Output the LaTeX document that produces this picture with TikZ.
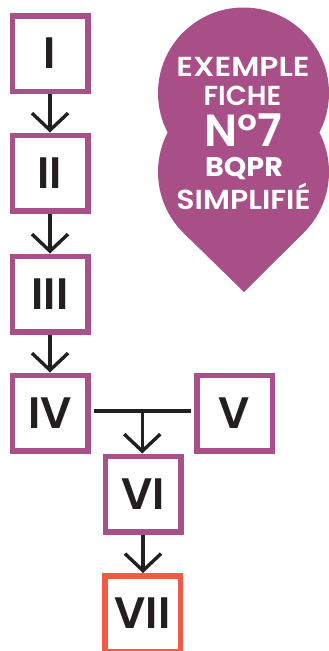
\documentclass[tikz,border=0pt]{standalone}
\usepackage{fontspec}
\setmainfont{Poppins}
\newfontfamily\boxfont{Poppins SemiBold}
\newfontfamily\badgefont{Poppins SemiBold}
\newfontfamily\badgebold{Poppins Bold}
\usetikzlibrary{arrows.meta,calc}
\definecolor{plum}{HTML}{A8508A}
\definecolor{badgec}{HTML}{A84F88}
\definecolor{coral}{HTML}{EF5B44}
\definecolor{ink}{HTML}{231F20}
\begin{document}
\begin{tikzpicture}[x=1pt,y=-1pt,
  stepbox/.style={draw=plum, line width=5.5pt, minimum size=75.5pt, inner sep=0pt, fill=white,
    font=\boxfont\fontsize{44}{44}\selectfont, text=ink},
  endbox/.style={stepbox, draw=coral},
  arr/.style={line width=3.4pt, draw=ink, -{Straight Barb[length=17pt,width=36pt]}},
  link/.style={line width=3.4pt, draw=ink},
  btext/.style={anchor=base, text=white, inner sep=0pt, text depth=0pt, font=\badgefont\fontsize{27.5}{27.5}\selectfont}
]
\useasboundingbox (0,0) rectangle (329,651);
\clip (0,0) rectangle (329,651);
% badge
\fill[badgec] (243.5,93) circle[radius=85.5];
\fill[badgec] (243.5,172) circle[radius=85.5];
\fill[badgec] (183.5,232.9) -- (244,292) -- (303.5,232.9) -- (243.5,172) -- cycle;
\node[btext] (t1) at (243,76) {\scalebox{1.14}[1]{EXEMPLE}};
\node[btext] (t2) at (242.5,105) {FICHE};
\node[btext, font=\badgefont\fontsize{45}{45}\selectfont] (t3) at (243.5,146) {N°7};
\node[btext, font=\badgebold\fontsize{27}{27}\selectfont] (t4) at (244,176) {\scalebox{1.06}[1]{BQPR}};
\node[btext] (t5) at (243.5,209) {\scalebox{1.09}[1]{SIMPLIFIÉ}};
% boxes
\node[stepbox] (I) at (50,53.5) {I};
\node[stepbox] (II) at (50,173) {II};
\node[stepbox] (III) at (50,294) {III};
\node[stepbox] (IV) at (50,413) {IV};
\node[stepbox] (V) at (234.5,413) {V};
\node[stepbox] (VI) at (143,494) {VI};
\node[endbox] (VII) at (142.5,613.5) {VII};
% connectors
\draw[arr] (I) -- (II);
\draw[arr] (II) -- (III);
\draw[arr] (III) -- (IV);
\draw[link, shorten <=3pt, shorten >=3pt] ([yshift=2pt]IV.east) -- ([yshift=2pt]V.west);
\coordinate (J) at ($([yshift=2pt]IV.east)!0.5!([yshift=2pt]V.west)$);
\draw[arr] (J) -- (J |- VI.north);
\draw[arr] (VI) -- (VI |- VII.north);
\end{tikzpicture}
\end{document}
